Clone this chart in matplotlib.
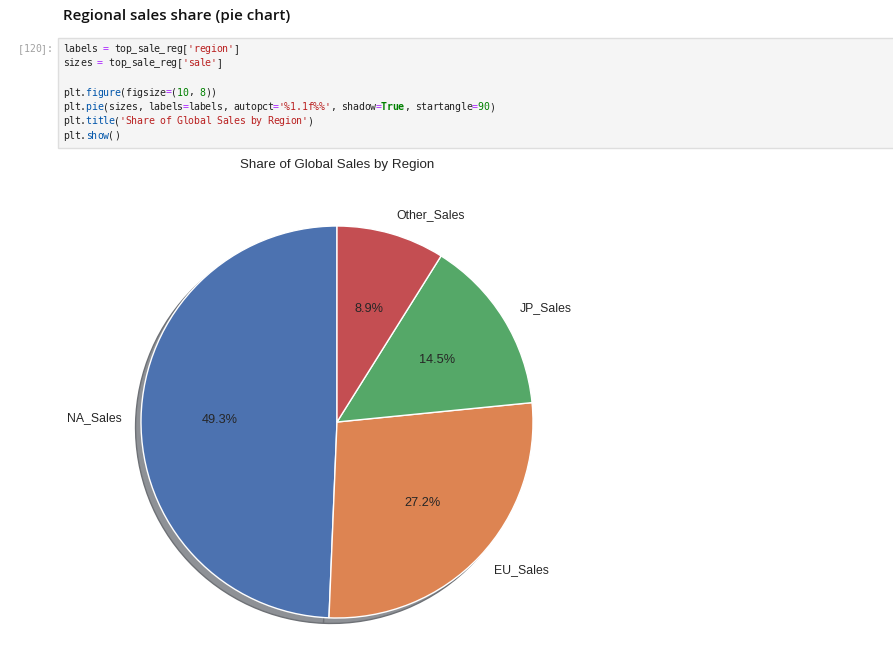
import matplotlib
matplotlib.use("Agg")
import matplotlib.pyplot as plt
from matplotlib.patches import Rectangle, Shadow

# ---- data ----
labels = ["NA_Sales", "EU_Sales", "JP_Sales", "Other_Sales"]
sizes = [49.3, 27.2, 14.5, 8.9]
colors = ["#4C72B0", "#DD8452", "#55A868", "#C44E52"]
title = "Share of Global Sales by Region"
heading = "Regional sales share (pie chart)"
prompt = "[120]:"

W, H = 893, 646
fig = plt.figure(figsize=(W / 100, H / 100), dpi=100)
fig.patch.set_facecolor("white")


def px(x, y):
    """pixel coords from top-left -> figure fraction"""
    return x / W, 1 - y / H


# ---- heading ----
hx, hy = px(63, 16)
fig.text(hx, hy, heading, fontsize=10.9, fontweight="semibold",
         family="Open Sans", color="#111111", ha="left", va="center")

# ---- code cell ----
bx0, by0 = px(58, 147.5)
fig.patches.append(Rectangle((bx0, by0), (910 - 58) / W, (147.5 - 38.3) / H,
                             transform=fig.transFigure, facecolor="#f5f5f5",
                             edgecolor="#dedede", linewidth=1.0, zorder=0))

cw = 5.68
MONO = "DejaVu Sans Mono"
CODE_FS = 7.1


def put_chars(x0, y, txt, color, weight="normal"):
    for j, ch in enumerate(txt):
        if ch == " ":
            continue
        tx, ty = px(x0 + j * cw + cw / 2, y)
        fig.text(tx, ty, ch, family=MONO, fontsize=CODE_FS, color=color,
                 fontweight=weight, ha="center", va="center")


put_chars(18, 49, prompt, "#a0a0a0")

K = "#212121"
OP = "#aa22ff"
S = "#ba2121"
N = "#008000"
P = "#0055aa"
code_lines = [
    [("labels ", K), ("=", OP), (" top_sale_reg[", K), ("'region'", S), ("]", K)],
    [("sizes ", K), ("=", OP), (" top_sale_reg[", K), ("'sale'", S), ("]", K)],
    [],
    [("plt.", K), ("figure", P), ("(figsize", K), ("=", OP), ("(", K), ("10", N),
     (", ", K), ("8", N), ("))", K)],
    [("plt.", K), ("pie", P), ("(sizes, labels", K), ("=", OP), ("labels, autopct", K),
     ("=", OP), ("'%1.1f%%'", S), (", shadow", K), ("=", OP), ("True", N, "bold"),
     (", startangle", K), ("=", OP), ("90", N), (")", K)],
    [("plt.", K), ("title", P), ("(", K), ("'Share of Global Sales by Region'", S), (")", K)],
    [("plt.", K), ("show", P), ("()", K)],
]
for i, toks in enumerate(code_lines):
    y = 49 + i * 14.5
    col = 0
    for tok in toks:
        txt, c = tok[0], tok[1]
        wt = tok[2] if len(tok) > 2 else "normal"
        put_chars(63 + col * cw, y, txt, c, wt)
        col += len(txt)

# ---- pie ----
cx, cy, R = 337, 422, 196
half = 1.25 * R
ax = fig.add_axes([(cx - half) / W, (H - cy - half) / H, 2 * half / W, 2 * half / H])
wedges, texts, autotexts = ax.pie(
    sizes, labels=labels, autopct="%1.1f%%", shadow=True, startangle=90,
    colors=colors, wedgeprops=dict(edgecolor="white", linewidth=1.0),
    textprops=dict(fontsize=8.8, color="#262626", family="Liberation Sans"))
for t in autotexts:
    t.set_fontsize(9.2)
for p in ax.patches:
    if isinstance(p, Shadow):
        p.set_facecolor("#8e9196")
        p.set_edgecolor("#6e7176")
        p.set_alpha(1.0)
ax.set_xlim(-1.25, 1.25)
ax.set_ylim(-1.25, 1.25)
ax.set_aspect("equal")

tx, ty = px(337, 165)
fig.text(tx, ty, title, fontsize=9.6, color="#262626", family="Liberation Sans",
         ha="center", va="center")

fig.savefig("out.png", dpi=100, facecolor="white")
